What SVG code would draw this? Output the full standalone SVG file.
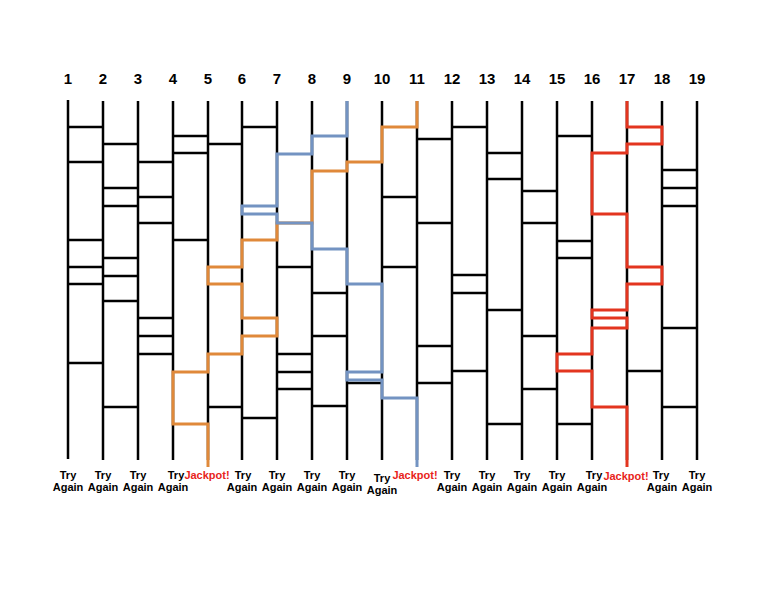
<svg xmlns="http://www.w3.org/2000/svg" width="768" height="593" viewBox="0 0 768 593">
<style>
.num{font-family:"Liberation Sans",Arial,sans-serif;font-weight:bold;font-size:15px;text-anchor:middle;fill:#000}
.lbl{font-family:"Liberation Sans",Arial,sans-serif;font-weight:bold;font-size:11px;text-anchor:middle;fill:#000}
.jp{font-family:"Liberation Sans",Arial,sans-serif;font-weight:bold;font-size:11px;text-anchor:middle;fill:#e8231b}
.pole{stroke:#000;stroke-width:2.5;fill:none}
.rung{stroke:#000;stroke-width:2.5;fill:none}
.po{stroke:#e0893a;stroke-width:3;fill:none;stroke-linejoin:miter}
.pb{stroke:#7393c2;stroke-width:3;fill:none;stroke-linejoin:miter}
.pr{stroke:#e3351f;stroke-width:3;fill:none;stroke-linejoin:miter}
</style>
<rect width="768" height="593" fill="#fff"/>
<g id="pole-1"><text class="num" x="68" y="84">1</text><line class="pole" x1="68" y1="100" x2="68" y2="459"/><text class="lbl" x="68" y="479">Try</text><text class="lbl" x="68" y="491">Again</text></g>
<g id="pole-2"><text class="num" x="103" y="84">2</text><line class="pole" x1="103" y1="101" x2="103" y2="460"/><text class="lbl" x="103" y="479">Try</text><text class="lbl" x="103" y="491">Again</text></g>
<g id="pole-3"><text class="num" x="138" y="84">3</text><line class="pole" x1="138" y1="101" x2="138" y2="460"/><text class="lbl" x="138" y="479">Try</text><text class="lbl" x="138" y="491">Again</text></g>
<g id="pole-4"><text class="num" x="173" y="84">4</text><line class="pole" x1="173" y1="101" x2="173" y2="460"/><text class="lbl" x="176" y="479">Try</text><text class="lbl" x="173" y="491">Again</text></g>
<g id="pole-5"><text class="num" x="208" y="84">5</text><line class="pole" x1="208" y1="101" x2="208" y2="460"/><text class="jp" x="207" y="479">Jackpot!</text></g>
<g id="pole-6"><text class="num" x="242" y="84">6</text><line class="pole" x1="242" y1="101" x2="242" y2="460"/><text class="lbl" x="243" y="479">Try</text><text class="lbl" x="242" y="491">Again</text></g>
<g id="pole-7"><text class="num" x="277" y="84">7</text><line class="pole" x1="277" y1="101" x2="277" y2="460"/><text class="lbl" x="277" y="479">Try</text><text class="lbl" x="277" y="491">Again</text></g>
<g id="pole-8"><text class="num" x="312" y="84">8</text><line class="pole" x1="312" y1="101" x2="312" y2="460"/><text class="lbl" x="312" y="479">Try</text><text class="lbl" x="312" y="491">Again</text></g>
<g id="pole-9"><text class="num" x="347" y="84">9</text><line class="pole" x1="347" y1="101" x2="347" y2="460"/><text class="lbl" x="347" y="479">Try</text><text class="lbl" x="347" y="491">Again</text></g>
<g id="pole-10"><text class="num" x="382" y="84">10</text><line class="pole" x1="382" y1="101" x2="382" y2="460"/><text class="lbl" x="382" y="482">Try</text><text class="lbl" x="382" y="494">Again</text></g>
<g id="pole-11"><text class="num" x="417" y="84">11</text><line class="pole" x1="417" y1="101" x2="417" y2="460"/><text class="jp" x="415" y="479">Jackpot!</text></g>
<g id="pole-12"><text class="num" x="452" y="84">12</text><line class="pole" x1="452" y1="101" x2="452" y2="460"/><text class="lbl" x="452" y="479">Try</text><text class="lbl" x="452" y="491">Again</text></g>
<g id="pole-13"><text class="num" x="487" y="84">13</text><line class="pole" x1="487" y1="101" x2="487" y2="460"/><text class="lbl" x="487" y="479">Try</text><text class="lbl" x="487" y="491">Again</text></g>
<g id="pole-14"><text class="num" x="522" y="84">14</text><line class="pole" x1="522" y1="101" x2="522" y2="460"/><text class="lbl" x="522" y="479">Try</text><text class="lbl" x="522" y="491">Again</text></g>
<g id="pole-15"><text class="num" x="557" y="84">15</text><line class="pole" x1="557" y1="101" x2="557" y2="460"/><text class="lbl" x="557" y="479">Try</text><text class="lbl" x="557" y="491">Again</text></g>
<g id="pole-16"><text class="num" x="592" y="84">16</text><line class="pole" x1="592" y1="101" x2="592" y2="460"/><text class="lbl" x="594" y="479">Try</text><text class="lbl" x="592" y="491">Again</text></g>
<g id="pole-17"><text class="num" x="627" y="84">17</text><line class="pole" x1="627" y1="101" x2="627" y2="460"/><text class="jp" x="626" y="480">Jackpot!</text></g>
<g id="pole-18"><text class="num" x="662" y="84">18</text><line class="pole" x1="662" y1="101" x2="662" y2="460"/><text class="lbl" x="661" y="479">Try</text><text class="lbl" x="662" y="491">Again</text></g>
<g id="pole-19"><text class="num" x="697" y="84">19</text><line class="pole" x1="697" y1="101" x2="697" y2="460"/><text class="lbl" x="697" y="479">Try</text><text class="lbl" x="697" y="491">Again</text></g>
<g id="connectors">
<path class="rung" d="M68 127H103M68 162H103M68 240H103M68 267H103M68 284H103M68 363H103
M103 144H138M103 188H138M103 206H138M103 258H138M103 276H138M103 301H138M103 407H138
M138 162H173M138 197H173M138 223H173M138 318H173M138 336H173M138 354H173
M173 136H208M173 153H208M173 240H208
M208 144H242M208 407H242
M242 127H277M242 418H277
M277 267H312M277 354H312M277 372H312M277 389H312
M312 293H347M312 336H347M312 406H347
M347 383H382
M382 197H417M382 267H417
M417 139H452M417 223H452M417 346H452M417 383H452
M452 127H487M452 275H487M452 293H487M452 371H487
M487 153H522M487 179H522M487 310H522M487 424H522
M522 191H557M522 223H557M522 336H557M522 389H557
M557 136H592M557 241H592M557 258H592M557 424H592
M627 371H662
M662 170H697M662 188H697M662 206H697M662 328H697M662 407H697"/>
<path id="path-orange" class="po" d="M417 101V127H382V162H347V171H312V223H277V240H242V267H208V284H242V318H277V336H242V354H208V372H173V424H208V467"/>
<path id="path-blue" class="pb" d="M347 101V136H312V154H277V206H242V214H277V223H312V249H347V284H382V372H347V380H382V398H417V467"/>
<path id="path-red" class="pr" d="M627 101V127H662V144H627V153H592V214H627V267H662V284H627V310H592V318H627V328H592V354H557V371H592V407H627V467"/>
</g>
</svg>
